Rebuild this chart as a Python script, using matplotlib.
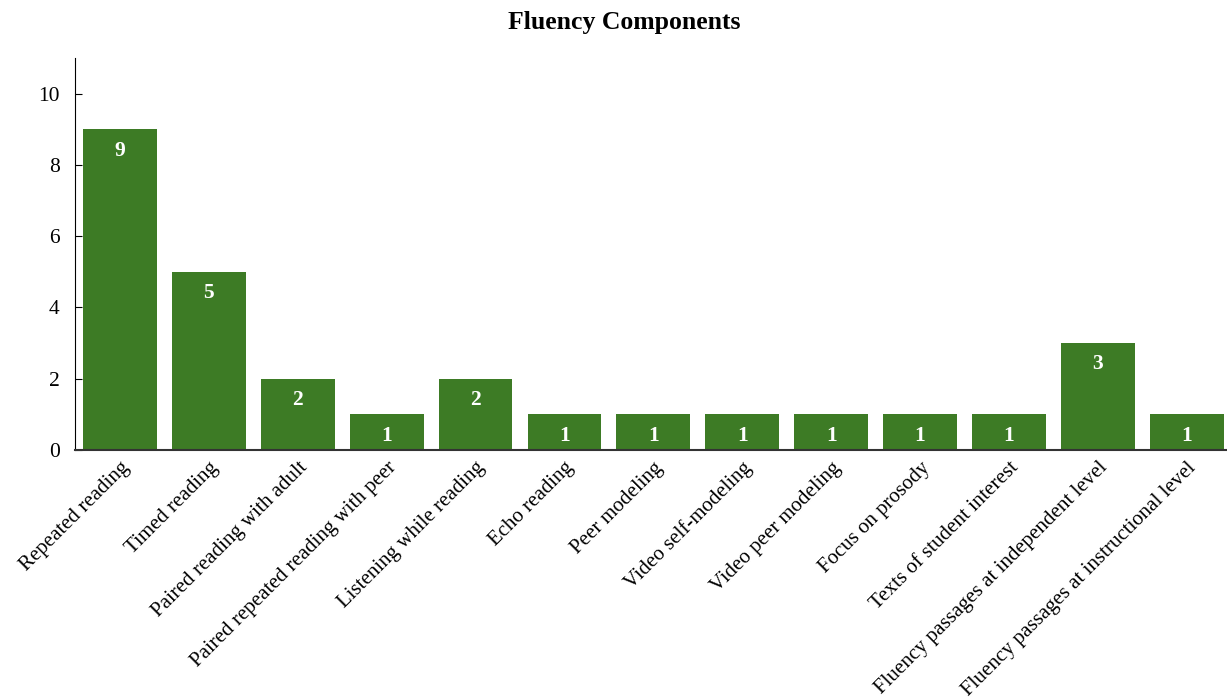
import numpy as np
import matplotlib.pyplot as plt

plt.rcParams['font.family'] = ['Liberation Serif', 'DejaVu Serif']

categories = ['Repeated reading', 'Timed reading', 'Paired reading with adult',
              'Paired repeated reading with peer', 'Listening while reading',
              'Echo reading', 'Peer modeling', 'Video self-modeling',
              'Video peer modeling', 'Focus on prosody', 'Texts of student interest',
              'Fluency passages at independent level',
              'Fluency passages at instructional level']
counts = [9, 5, 2, 1, 2, 1, 1, 1, 1, 1, 1, 3, 1]

fig = plt.figure(figsize=(12.27, 6.98), dpi=100)
ax = fig.add_axes([0.0611, 0.3553, 0.9380, 0.5616])

x = np.arange(len(categories))
bars = ax.bar(x, counts, width=0.83, color='#3d7b25')

for b, v in zip(bars, counts):
    ax.text(b.get_x() + b.get_width() / 2, v - 0.6, str(v), ha='center', va='center',
            color='white', fontweight='bold', fontsize=15.5)

ax.set_xlim(-0.506, 12.44)
ax.set_ylim(0, 11)
ax.set_yticks([0, 2, 4, 6, 8, 10])
ax.set_xticks(x)
ax.set_xticklabels(categories, rotation=45, ha='right', rotation_mode='anchor')
ax.tick_params(axis='x', length=0, labelsize=15, pad=6)
ax.tick_params(axis='y', labelsize=15.5, length=5, direction='in', pad=11)
ax.spines['top'].set_visible(False)
ax.spines['right'].set_visible(False)
ax.spines['bottom'].set_color('#333333')
ax.spines['bottom'].set_linewidth(1.5)

fig.text(624 / 1227, 1 - 22 / 698, 'Fluency Components', ha='center', va='center',
         fontsize=18.5, fontweight='bold')

fig.savefig('out.png', dpi=100)
